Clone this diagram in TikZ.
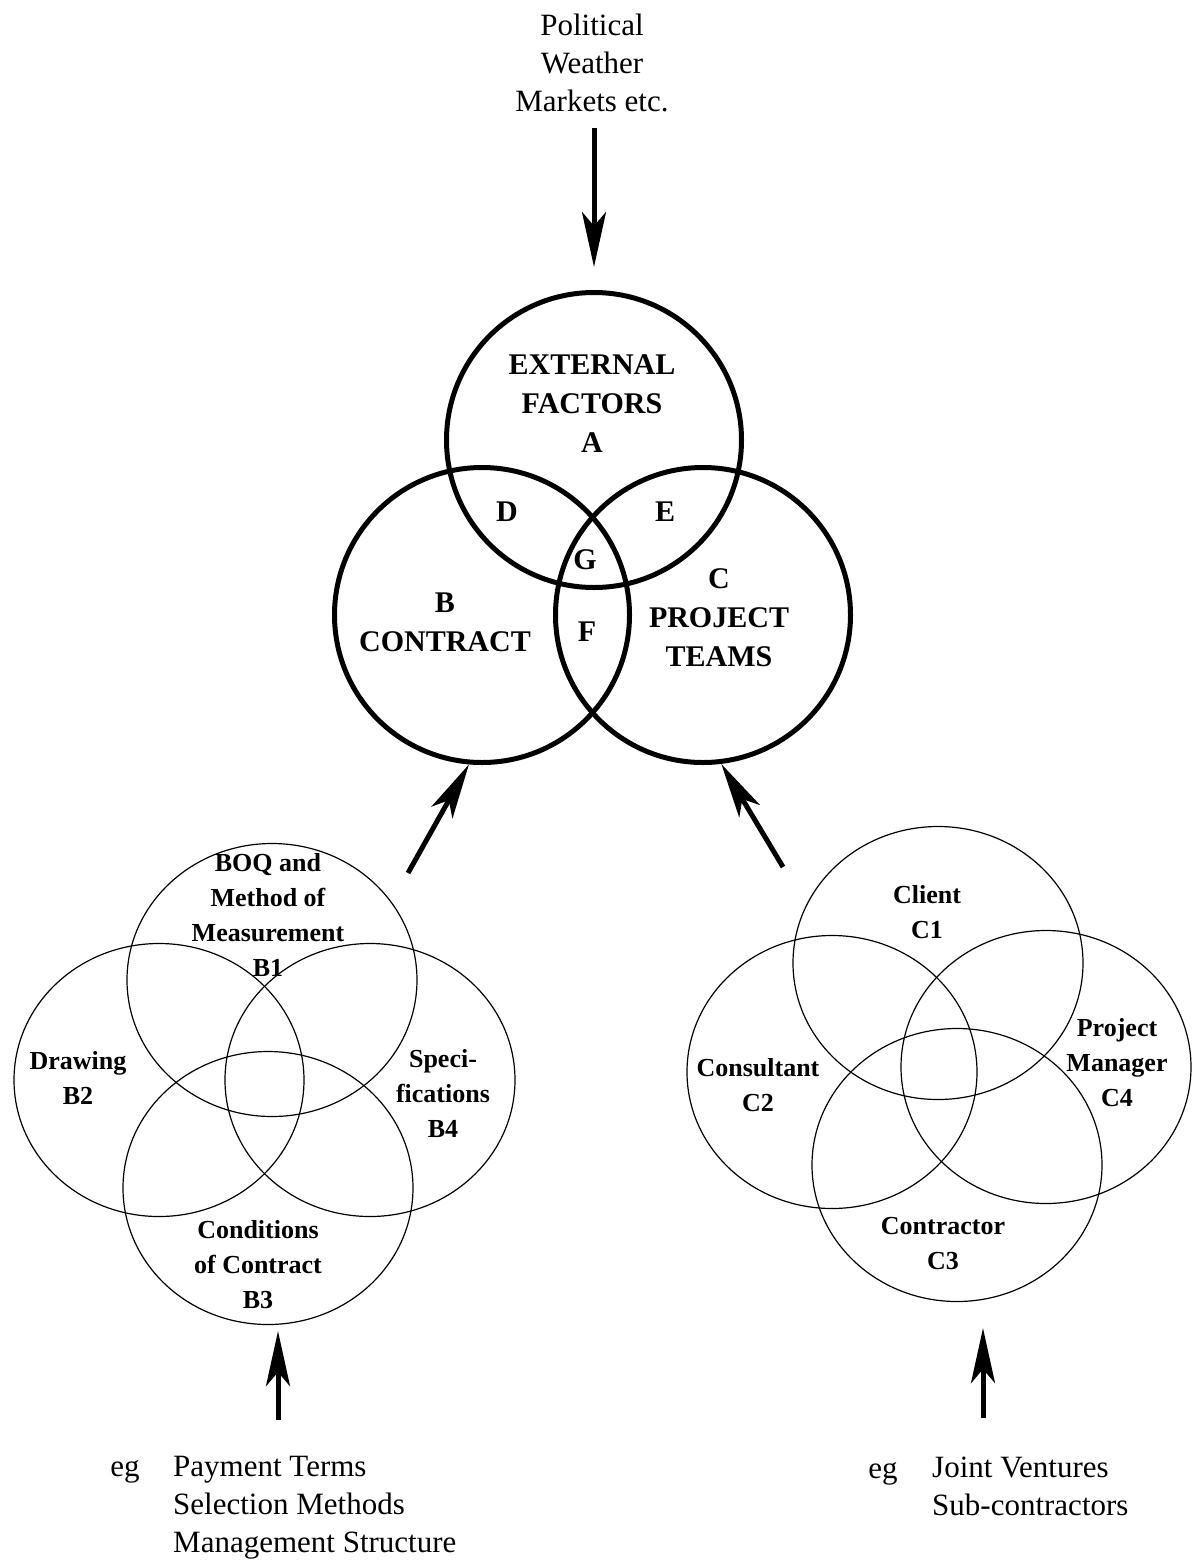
\documentclass[tikz,border=0pt]{standalone}
\usepackage{fontspec}
\setmainfont{Liberation Serif}
\usetikzlibrary{shapes.geometric, arrows.meta}

\begin{document}
\begin{tikzpicture}[x = 1pt, y = -1pt,
                    bigring/.style = {circle, draw, line width = 5pt, minimum size = 295pt, inner sep = 0pt},
                    smallring/.style = {ellipse, draw, line width = 1.2pt, minimum width = 290pt, minimum height = 273pt, inner sep = 0pt},
                    bigtext/.style = {font = \fontsize{30}{39}\selectfont\bfseries, align = center, inner sep = 0pt},
                    smalltext/.style = {font = \fontsize{26}{35}\selectfont\bfseries, align = center, inner sep = 0pt},
                    plaintext/.style = {font = \fontsize{31}{38}\selectfont, inner sep = 0pt},
                    push/.style = {line width = 5pt, -{Stealth[length = 55pt, width = 24pt, inset = 14pt]}}]
  \useasboundingbox (0, 0) rectangle (1192, 1561);

  % main venn
  \node [bigring] (A) at (594, 440){};
  \node [bigring] (B) at (482, 615){};
  \node [bigring] (C) at (703, 615){};
  \node [bigtext] (Alab) at (592, 404){EXTERNAL\\FACTORS\\A};
  \node [bigtext] (Blab) at (445, 622){B\\CONTRACT};
  \node [bigtext] (Clab) at (719, 618){C\\PROJECT\\TEAMS};
  \node [bigtext] (D) at (507, 512){D};
  \node [bigtext] (E) at (665, 512){E};
  \node [bigtext] (G) at (585, 560){G};
  \node [bigtext] (F) at (587, 632){F};

  % contract venn
  \node [smallring] (B1) at (272, 980){};
  \node [smallring] (B2) at (159, 1080){};
  \node [smallring] (B3) at (268, 1188){};
  \node [smallring] (B4) at (370, 1080){};
  \node [smalltext] (B1lab) at (268, 915){BOQ and\\Method of\\Measurement\\B1};
  \node [smalltext] (B2lab) at (78, 1078){Drawing\\B2};
  \node [smalltext] (B4lab) at (443, 1094){Speci-\\fications\\B4};
  \node [smalltext] (B3lab) at (258, 1265){Conditions\\of Contract\\B3};

  % project teams venn
  \node [smallring] (C1) at (938, 963){};
  \node [smallring] (C2) at (832, 1072){};
  \node [smallring] (C3) at (957, 1165){};
  \node [smallring] (C4) at (1046, 1067){};
  \node [smalltext] (C1lab) at (927, 912){Client\\C1};
  \node [smalltext] (C2lab) at (758, 1085){Consultant\\C2};
  \node [smalltext] (C4lab) at (1117, 1063){Project\\Manager\\C4};
  \node [smalltext] (C3lab) at (943, 1244){Contractor\\C3};

  % outside texts
  \node [plaintext, align = center] (ext) at (592, 63){Political\\Weather\\Markets etc.};
  \node [plaintext] (egB) at (125, 1472){eg};
  \node [plaintext, align = left, anchor = west] (bList) at (173, 1508){Payment Terms\\Selection Methods\\Management Structure};
  \node [plaintext] (egC) at (883, 1474){eg};
  \node [plaintext, align = left, anchor = west] (cList) at (932, 1486){Joint Ventures\\Sub-contractors};

  \coordinate (extTail) at (594, 128);
  \coordinate (bTail) at (408, 873);
  \coordinate (cTail) at (783, 867);
  \coordinate (b3Tail) at (278, 1420);
  \coordinate (c3Tail) at (983, 1418);

  \draw [push, shorten >= 23pt] (extTail) -- (extTail |- A.north);
  \draw [push] (bTail) -- (B.265);
  \draw [push] (cTail) -- (C.277);
  \draw [push, shorten >= 6pt] (b3Tail) -- (b3Tail |- B3.south);
  \draw [push, shorten >= 26pt] (c3Tail) -- (c3Tail |- C3.south);
\end{tikzpicture}
\end{document}
